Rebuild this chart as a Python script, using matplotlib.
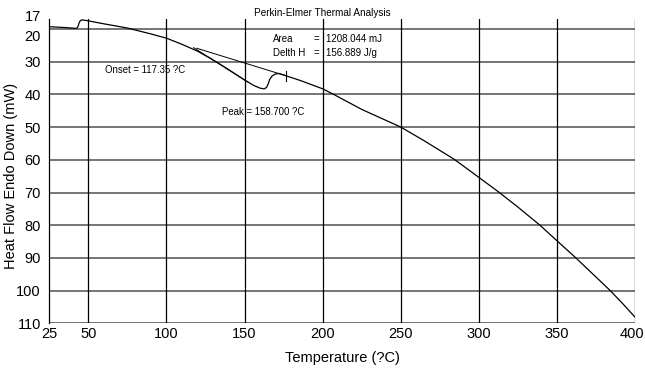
import numpy as np
import matplotlib
matplotlib.use('Agg')
import matplotlib.pyplot as plt
import matplotlib.transforms as mtransforms

# DSC scan
temp = [25, 35, 42.1, 43.0, 43.6, 44.2, 44.8, 45.8, 50, 57.5, 75, 90, 100,
        110, 120, 130, 140, 150, 156, 160, 162.5, 164, 165, 166, 167.5,
        169.5, 172, 176.5, 186, 200, 207, 225, 250, 265, 284, 300, 313,
        325, 339, 350, 362, 373, 384, 392, 400]
heat_flow = [19.3, 19.55, 19.8, 19.6, 18.9, 18.0, 17.5, 17.2, 17.5, 18.2, 19.7,
             21.5, 22.8, 24.7, 26.8, 29.5, 32.5, 35.6, 37.3, 38.1, 38.3, 37.9,
             36.9, 35.5, 34.4, 33.8, 33.6, 34.3, 35.8, 38.3, 40.0, 44.6, 50.0,
             54.2, 59.8, 65.4, 70.0, 74.5, 80.0, 84.8, 90.0, 95.0, 100.0,
             104.0, 108.2]

# peak baseline and onset tangent
base_t = [119.5, 176.5]
base_hf = [25.9, 34.3]
tan_t = [117.35, 152]
tan_hf = [25.7, 36.2]
peak_mark_t = 176.5

xticks = [25, 50, 100, 150, 200, 250, 300, 350, 400]
yticks = [17, 20, 30, 40, 50, 60, 70, 80, 90, 100, 110]
ygrid = [20, 30, 40, 50, 60, 70, 80, 90, 100, 110]
xgrid = [50, 100, 150, 200, 250, 300, 350, 400]

plt.rcParams['font.family'] = ['Liberation Sans', 'DejaVu Sans']

fig = plt.figure(figsize=(6.45, 3.7), dpi=100)
ax = fig.add_axes([0.0764, 0.1262, 0.9085, 0.8219])

for y in ygrid:
    ax.axhline(y, color='#6a6a6a', lw=1.3, zorder=1)
for x in xgrid:
    ax.axvline(x, color='black', lw=0.9, zorder=1)

ax.plot(temp, heat_flow, color='black', lw=0.9, zorder=3)
ax.plot(base_t, base_hf, color='black', lw=0.7, zorder=3)
ax.plot(tan_t, tan_hf, color='black', lw=0.7, zorder=3)
ax.plot([peak_mark_t, peak_mark_t], [32.9, 36.0], color='black', lw=0.8, zorder=3)

ax.set_xlim(25, 400)
ax.set_ylim(110, 17)
ax.set_xticks(xticks)
ax.set_yticks(yticks)
ax.tick_params(axis='both', length=0, labelsize=10.5)
ax.tick_params(axis='x', pad=3)
ax.tick_params(axis='y', pad=6)

for s in ['top', 'right', 'bottom']:
    ax.spines[s].set_visible(False)
ax.spines['left'].set_linewidth(0.9)

# nudge the crowded 17/20 labels apart
labels = ax.get_yticklabels()
labels[0].set_transform(labels[0].get_transform() +
                        mtransforms.ScaledTranslation(0, 0.035, fig.dpi_scale_trans))
labels[1].set_transform(labels[1].get_transform() +
                        mtransforms.ScaledTranslation(0, -0.06, fig.dpi_scale_trans))
# keep the 400 label inside the figure
xl = ax.get_xticklabels()
xl[-1].set_transform(xl[-1].get_transform() +
                     mtransforms.ScaledTranslation(-0.03, 0, fig.dpi_scale_trans))

ax.set_xlabel('Temperature (?C)', fontsize=10.5)
ax.set_ylabel('Heat Flow Endo Down (mW)', fontsize=10.5)
ax.xaxis.set_label_coords(0.5, -0.114)
ax.xaxis.label.set_va('center')
ax.yaxis.set_label_coords(-0.065, 0.485)
ax.yaxis.label.set_va('center')

fig.text(0.499, 0.966, 'Perkin-Elmer Thermal Analysis', fontsize=7.2,
         ha='center', va='center')

ax.text(60.6, 32.6, 'Onset = 117.35 ?C', fontsize=6.9, va='center')
ax.text(135.3, 45.3, 'Peak = 158.700 ?C', fontsize=6.9, va='center')
ax.text(168.0, 23.1, 'Area', fontsize=7, va='center')
ax.text(168.0, 27.4, 'Delth H', fontsize=7, va='center')
ax.text(196.1, 23.1, '=', fontsize=7, va='center', ha='center')
ax.text(196.1, 27.4, '=', fontsize=7, va='center', ha='center')
ax.text(202.1, 23.1, '1208.044 mJ', fontsize=7, va='center')
ax.text(202.1, 27.4, '156.889 J/g', fontsize=7, va='center')

fig.savefig('out.png', dpi=100)
